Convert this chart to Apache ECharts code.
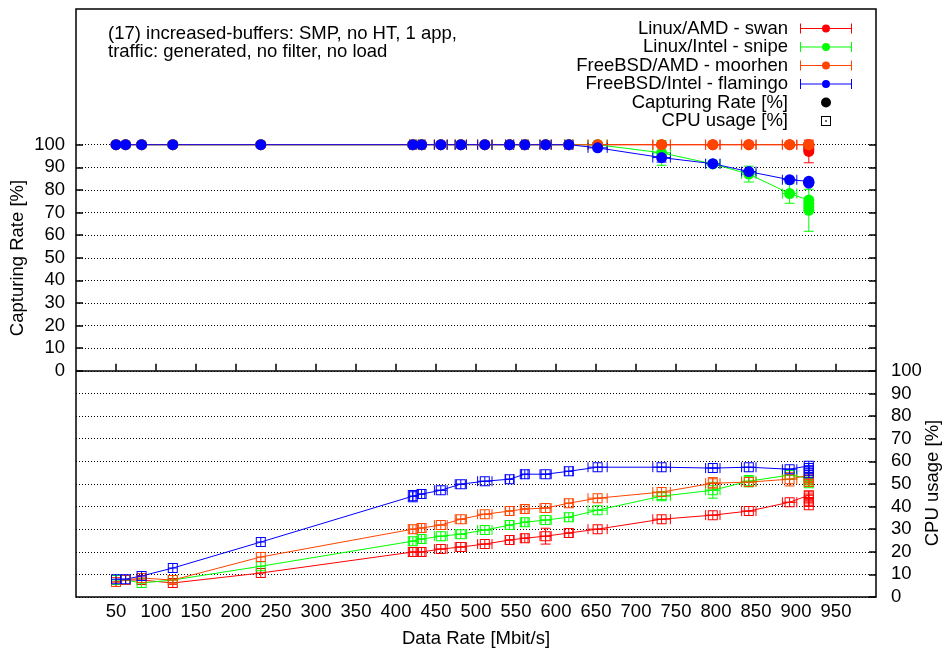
<!DOCTYPE html>
<html>
<head>
<meta charset="utf-8">
<title>increased-buffers</title>
<script src="https://cdn.jsdelivr.net/npm/echarts@6/dist/echarts.min.js"></script>
<style>
  html, body { margin: 0; padding: 0; background: #fff; }
  #chart { width: 944px; height: 654px; }
</style>
</head>
<body>
<div id="chart"></div>
<script>
// measured data rates [Mbit/s]; the last four are repeated runs at ~916
const rates = [50, 62, 82, 121, 231, 421, 432, 456, 481, 511, 542, 561, 587, 616, 652, 732, 796, 841, 892, 916, 916, 916, 916];
const rateErr = [0, 0, 0, 0, 0, 4, 4, 8, 7, 9, 5, 4, 7, 5, 12, 11, 9, 9, 9, 0, 0, 0, 0];

// capturing rate [%]
const swanCapture     = [100, 100, 100, 100, 100, 100, 100, 100, 100, 100, 100, 100, 100, 100, 100, 100, 100, 100, 100, 100, 99, 98, 97];
const snipeCapture    = [100, 100, 100, 100, 100, 100, 100, 100, 100, 100, 100, 100, 100, 100, 100, 96.4, 91.5, 87, 78.4, 75.5, 74, 72.5, 71];
const moorhenCapture  = [100, 100, 100, 100, 100, 100, 100, 100, 100, 100, 100, 100, 100, 100, 100, 100, 100, 100, 100, 100, 100, 100, 100];
const flamingoCapture = [100, 100, 100, 100, 100, 100, 100, 100, 100, 100, 100, 100, 100, 100, 98.6, 94.3, 91.6, 88.1, 84.5, 83.8, 83.5, 83.3, 83];

const swanCaptureErr     = [0, 0, 0, 0, 0, 0, 0, 0, 0, 0, 0, 0, 0, 0, 0, 0, 0, 0, 0, 0, 0, 0, 5];
const snipeCaptureErr    = [0, 0, 0, 0, 0, 0, 0, 0, 0, 0, 0, 0, 0, 0, 0, 5.5, 0, 3.5, 4.3, 0, 0, 0, 9.3];
const moorhenCaptureErr  = [0, 0, 0, 0, 0, 0, 0, 0, 0, 0, 0, 0, 0, 0, 0, 0, 0, 0, 0, 0, 0, 0, 0];
const flamingoCaptureErr = [0, 0, 0, 0, 0, 0, 0, 0, 0, 0, 0, 0, 0, 0, 0, 2, 0, 0, 0, 0, 0, 0, 0];

// CPU usage [%]
const swanCpu     = [6.6, 7.5, 7.5, 6.2, 10.6, 19.9, 19.9, 21.2, 22.1, 23.4, 25.2, 26.0, 26.9, 28.3, 30.0, 34.4, 36.2, 38.0, 41.9, 45.0, 43.5, 42.0, 40.6];
const snipeCpu    = [7.5, 7.5, 6.2, 7.5, 13.6, 24.7, 25.6, 26.9, 27.8, 29.6, 31.8, 33.1, 34.0, 35.3, 38.4, 44.6, 47.2, 51.2, 53.9, 52.5, 51.5, 50.8, 50.3];
const moorhenCpu  = [6.6, 7.5, 8.4, 7.5, 17.7, 30.0, 30.5, 31.8, 34.4, 36.6, 38.0, 38.9, 39.3, 41.5, 43.7, 46.4, 50.3, 50.8, 52.1, 53.9, 52.8, 51.8, 50.8];
const flamingoCpu = [7.9, 7.9, 9.3, 12.8, 24.3, 44.6, 45.5, 47.2, 49.9, 51.2, 52.1, 54.3, 54.3, 55.6, 57.4, 57.4, 57.0, 57.4, 56.5, 58.0, 57.0, 55.8, 54.7];

const swanCpuErr     = [0, 0, 0, 0, 0, 0, 0, 0, 0, 0, 0, 0, 3.5, 0, 0, 0, 0, 0, 0, 1.5, 0, 0, 0];
const snipeCpuErr    = [0, 0, 0, 0, 0, 0, 0, 0, 0, 0, 0, 0, 0, 0, 0, 1.5, 3.5, 2.5, 0, 0, 0, 0, 0];
const moorhenCpuErr  = [0, 0, 0, 0, 0, 0, 0, 0, 0, 0, 0, 0, 0, 0, 0, 0, 2.5, 0, 3, 0, 0, 0, 0];
const flamingoCpuErr = [0, 0, 0, 0, 0, 2.5, 0, 0, 0, 0, 0, 0, 0, 0, 0, 0, 0, 0, 0, 0, 0, 0, 0];

const hosts = ['Linux/AMD - swan', 'Linux/Intel - snipe', 'FreeBSD/AMD - moorhen', 'FreeBSD/Intel - flamingo'];
const colors = ['#ff0000', '#00ff00', '#ff4500', '#0000ff'];
const captureSets = [swanCapture, snipeCapture, moorhenCapture, flamingoCapture];
const captureErrSets = [swanCaptureErr, snipeCaptureErr, moorhenCaptureErr, flamingoCaptureErr];
const cpuSets = [swanCpu, snipeCpu, moorhenCpu, flamingoCpu];
const cpuErrSets = [swanCpuErr, snipeCpuErr, moorhenCpuErr, flamingoCpuErr];

const xTicks = [50, 100, 150, 200, 250, 300, 350, 400, 450, 500, 550, 600, 650, 700, 750, 800, 850, 900, 950];
const yTicks = [0, 10, 20, 30, 40, 50, 60, 70, 80, 90, 100];

const FONT = '"Liberation Sans", Arial, Helvetica, sans-serif';
const FS = 18.5;
const boxSymbol = 'path://M0,0H10V10H0Z M1,1V4.5H4.5V1Z M5.5,1V4.5H9V1Z M1,5.5V9H4.5V5.5Z M5.5,5.5V9H9V5.5Z';
const keyIcon = 'path://M0,0H1V10H0Z M0,4.5H52V5.5H0Z M51,0H52V10H51Z M22,5A4,4 0 1 1 30,5A4,4 0 1 1 22,5Z';
const keyBox = 'path://M0,0H10V10H0Z M1,1V9H9V1Z M4.2,4.2H5.8V5.8H4.2Z';

// error bars: horizontal (rate) and vertical (value) with small caps
function renderErrorBar(params, api) {
  const x = api.value(0), y = api.value(1), ex = api.value(2), ey = api.value(3);
  const cap = 5;
  const segs = [];
  if (ex > 0) {
    const a = api.coord([x - ex, y]), b = api.coord([x + ex, y]);
    segs.push([a[0], a[1], b[0], b[1]], [a[0], a[1] - cap, a[0], a[1] + cap], [b[0], b[1] - cap, b[0], b[1] + cap]);
  }
  if (ey > 0) {
    const t = api.coord([x, y + ey]), b = api.coord([x, y - ey]);
    segs.push([t[0], t[1], b[0], b[1]], [t[0] - cap, t[1], t[0] + cap, t[1]], [b[0] - cap, b[1], b[0] + cap, b[1]]);
  }
  return {
    type: 'group',
    children: segs.map(s => ({
      type: 'line',
      shape: { x1: s[0], y1: s[1], x2: s[2], y2: s[3] },
      style: { stroke: api.visual('color'), lineWidth: 1 }
    }))
  };
}

const series = [];
hosts.forEach((name, k) => {
  const color = colors[k];
  series.push({
    type: 'custom', name: name + ' err', yAxisIndex: 0, z: 1, silent: true,
    itemStyle: { color },
    renderItem: renderErrorBar,
    data: rates.map((r, i) => [r, captureSets[k][i], rateErr[i], captureErrSets[k][i]])
  });
  series.push({
    type: 'custom', name: name + ' cpu err', yAxisIndex: 1, z: 1, silent: true,
    itemStyle: { color },
    renderItem: renderErrorBar,
    data: rates.map((r, i) => [r, cpuSets[k][i], rateErr[i], cpuErrSets[k][i]])
  });
});
hosts.forEach((name, k) => {
  const color = colors[k];
  series.push({
    type: 'line', name, yAxisIndex: 0, z: 3,
    symbol: 'circle', symbolSize: 11, showAllSymbol: true,
    itemStyle: { color },
    lineStyle: { color, width: 1 },
    emphasis: { disabled: true },
    data: rates.map((r, i) => [r, captureSets[k][i]])
  });
  series.push({
    type: 'line', name, yAxisIndex: 1, z: 3,
    symbol: boxSymbol, symbolSize: 10, showAllSymbol: true,
    itemStyle: { color },
    lineStyle: { color, width: 1 },
    emphasis: { disabled: true },
    data: rates.map((r, i) => [r, cpuSets[k][i]])
  });
});
// zero line between the two panels
series[0].markLine = {
  silent: true, symbol: 'none', label: { show: false },
  lineStyle: { color: '#000', type: 'solid', width: 1.5 },
  emphasis: { disabled: true },
  data: [{ yAxis: 0 }]
};
series.push({ type: 'line', name: 'Capturing Rate [%]', data: [], itemStyle: { color: '#000' } });
series.push({ type: 'line', name: 'CPU usage [%]', data: [], itemStyle: { color: '#000' } });

const chart = echarts.init(document.getElementById('chart'));
chart.setOption({
  animation: false,
  backgroundColor: '#fff',
  textStyle: { fontFamily: FONT },
  title: {
    text: '(17) increased-buffers: SMP, no HT, 1 app,\ntraffic: generated, no filter, no load',
    left: 108, top: 25, padding: 0,
    textStyle: { fontFamily: FONT, fontSize: FS, fontWeight: 'normal', lineHeight: 18, color: '#000' }
  },
  legend: {
    orient: 'vertical', align: 'right', right: 92, top: 19, padding: 0,
    itemWidth: 52, itemHeight: 10, itemGap: -0.5, selectedMode: false,
    textStyle: { fontFamily: FONT, fontSize: FS, lineHeight: 18, color: '#000', padding: [0, 7, 0, 0] },
    data: hosts.map((name, k) => ({ name, icon: keyIcon, itemStyle: { color: colors[k], borderWidth: 0 } })).concat([
      { name: 'Capturing Rate [%]', icon: 'circle', itemStyle: { color: '#000', borderWidth: 0 } },
      { name: 'CPU usage [%]', icon: keyBox, itemStyle: { color: '#000', borderWidth: 0 } }
    ])
  },
  grid: { left: 76, right: 68, top: 9, bottom: 57, show: true, borderColor: '#000', borderWidth: 1.5, backgroundColor: 'transparent' },
  xAxis: {
    type: 'value', min: 0, max: 1000,
    name: 'Data Rate [Mbit/s]', nameLocation: 'middle', nameGap: 32,
    nameTextStyle: { fontFamily: FONT, fontSize: FS, color: '#000' },
    axisLine: { show: false },
    axisTick: { show: true, inside: true, length: 7, customValues: xTicks, lineStyle: { color: '#000', width: 1.5 } },
    axisLabel: { customValues: xTicks, margin: 5, fontSize: FS, color: '#000', fontFamily: FONT },
    splitLine: { show: false }
  },
  yAxis: [
    {
      type: 'value', min: -100, max: 160, position: 'left',
      axisLine: { show: false },
      axisTick: { show: true, inside: true, length: 7, customValues: yTicks, lineStyle: { color: '#000', width: 1.5 } },
      axisLabel: { customValues: yTicks, margin: 11, fontSize: FS, color: '#000', fontFamily: FONT },
      splitLine: { show: true, lineStyle: { color: '#000', width: 1, type: [1, 2] } }
    },
    {
      type: 'value', min: 0, max: 260, position: 'right',
      axisLine: { show: false },
      axisTick: { show: true, inside: true, length: 7, customValues: yTicks, lineStyle: { color: '#000', width: 1.5 } },
      axisLabel: { customValues: yTicks, margin: 15, fontSize: FS, color: '#000', fontFamily: FONT },
      splitLine: { show: true, lineStyle: { color: '#000', width: 1, type: [1, 2] } }
    },
    {
      type: 'value', min: -100, max: 160, position: 'right',
      axisLine: { show: false },
      axisTick: { show: true, inside: true, length: 7, customValues: yTicks, lineStyle: { color: '#000', width: 1.5 } },
      axisLabel: { show: false },
      splitLine: { show: false }
    }
  ],
  graphic: [
    {
      type: 'text', x: 18, y: 258, rotation: Math.PI / 2, silent: true,
      style: { text: 'Capturing Rate [%]', font: FS + 'px ' + FONT, fill: '#000', align: 'center', verticalAlign: 'middle' }
    },
    {
      type: 'text', x: 933, y: 483, rotation: Math.PI / 2, silent: true,
      style: { text: 'CPU usage [%]', font: FS + 'px ' + FONT, fill: '#000', align: 'center', verticalAlign: 'middle' }
    }
  ],
  series
});
</script>
</body>
</html>
